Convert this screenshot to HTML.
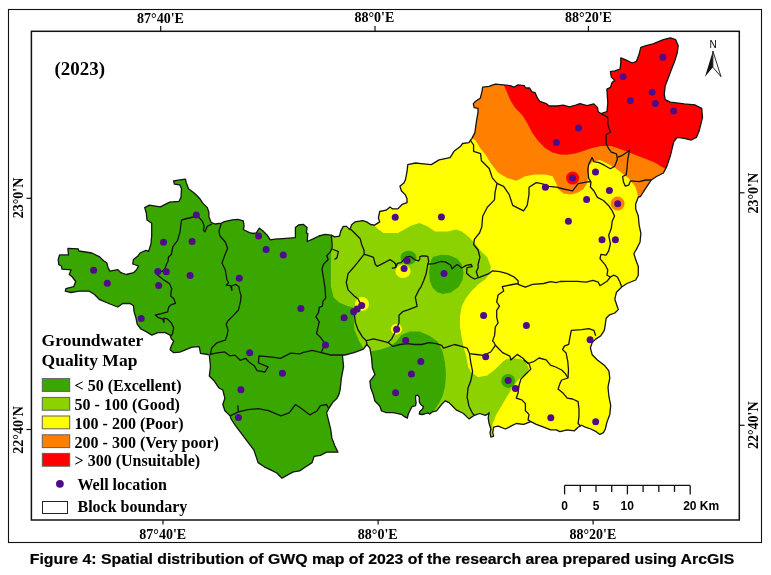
<!DOCTYPE html>
<html><head><meta charset="utf-8"><title>GWQ map 2023</title>
<style>html,body{margin:0;padding:0;background:#fff;}svg{display:block;will-change:transform;}</style>
</head><body>
<svg width="771" height="575" viewBox="0 0 771 575">
<defs><clipPath id="cp"><polygon points="58.2,259.5 59.5,254.9 68.5,254.9 67.9,248.4 78.3,248.8 78.9,251.0 91.9,253.0 99.7,256.9 103.6,260.8 106.8,262.7 108.1,267.9 110.0,271.1 117.8,269.6 120.9,272.7 126.3,274.5 133.6,272.7 136.6,269.6 138.6,266.0 132.7,264.0 133.4,259.5 138.2,255.7 140.0,253.0 146.0,250.4 148.6,251.4 151.0,243.6 151.7,235.7 151.7,223.2 147.0,220.0 146.3,213.0 144.7,207.6 149.4,205.2 160.3,206.8 169.7,202.1 179.1,201.3 181.0,197.4 181.5,188.8 179.9,184.9 174.4,184.1 173.6,181.0 178.3,180.2 185.4,179.1 186.2,182.5 188.5,188.8 194.8,193.5 199.5,198.2 202.6,202.9 207.3,207.6 208.9,212.3 208.9,217.0 211.2,222.4 215.1,224.0 221.4,223.2 224.5,221.6 232.3,219.8 237.8,219.3 243.3,220.9 244.1,226.3 243.3,229.5 249.5,232.6 253.0,233.5 256.3,232.9 259.4,228.2 262.5,230.5 267.2,235.2 270.3,239.9 275.0,239.1 286.0,238.3 295.4,237.6 295.4,227.4 298.5,225.0 303.2,224.3 307.1,227.4 306.3,232.9 307.9,233.6 307.1,241.5 312.6,239.1 318.9,236.0 325.1,234.4 331.4,235.2 334.5,236.8 339.5,236.1 340.8,230.9 343.3,226.4 346.6,226.4 349.8,229.6 351.8,224.5 355.0,221.9 362.8,220.6 366.7,221.9 370.6,224.5 374.5,225.1 379.7,221.9 378.4,218.0 379.7,211.5 386.1,210.2 390.0,206.9 392.6,208.9 397.8,208.9 402.3,204.3 407.0,202.7 407.0,198.8 405.4,194.9 401.5,191.0 399.9,186.3 403.8,183.1 405.5,179.5 407.0,171.6 407.8,164.6 415.6,163.0 423.5,163.8 431.3,164.6 439.1,159.9 450.1,157.6 454.0,151.3 460.3,146.6 462.6,143.5 468.9,142.7 470.4,140.3 471.7,138.9 474.9,132.6 476.4,121.6 478.0,112.3 478.0,108.3 474.1,107.6 473.3,103.6 475.6,101.3 480.3,98.2 481.9,91.9 482.7,87.2 489.0,86.4 495.2,84.1 503.8,84.9 510.1,85.6 514.0,87.2 517.9,84.9 524.2,85.6 525.7,88.0 529.6,88.0 532.0,91.9 535.1,92.7 537.5,98.2 539.8,101.3 546.1,103.6 549.2,106.0 557.0,106.0 563.3,105.2 569.5,106.8 575.8,105.2 580.0,103.6 587.0,105.7 593.9,103.9 597.4,107.4 598.2,111.7 600.9,113.5 606.9,111.7 607.8,103.0 606.9,89.1 610.4,87.4 612.2,82.2 614.8,80.4 611.3,77.0 610.4,71.7 614.8,70.9 620.0,69.1 620.8,63.0 620.8,57.8 625.2,59.6 632.1,63.0 636.5,61.3 639.1,54.3 640.8,47.4 646.0,45.7 653.0,43.9 663.4,39.6 670.4,37.8 675.6,39.6 678.2,45.7 677.3,52.6 674.7,61.3 671.2,70.0 668.6,77.0 665.2,85.7 664.3,94.3 665.2,99.6 670.4,102.2 684.3,103.9 694.7,104.8 701.7,108.3 702.5,117.4 700.8,124.3 699.0,131.3 696.4,137.4 691.2,140.0 684.3,138.3 677.3,137.4 673.8,141.7 672.1,148.7 670.4,155.7 666.9,166.1 663.4,173.0 656.5,176.5 651.3,180.0 647.8,185.2 644.3,190.4 640.5,196.5 638.3,197.0 635.7,203.9 635.7,209.1 638.3,216.1 639.1,224.8 640.9,233.5 640.0,242.2 636.5,249.1 633.9,253.5 635.7,259.6 638.3,266.5 638.3,275.2 635.7,280.0 627.0,283.5 621.7,287.0 616.5,292.2 614.8,299.1 616.5,304.3 618.3,309.6 614.8,313.0 609.6,314.8 606.1,318.3 605.2,325.2 604.3,330.4 600.9,335.7 595.7,339.1 592.2,342.6 590.4,347.8 592.2,354.8 597.4,360.0 604.3,365.2 608.9,370.9 609.8,378.1 608.0,387.2 608.9,396.3 610.7,405.4 609.8,414.4 607.1,421.7 605.3,429.0 603.5,432.6 599.8,434.4 596.2,431.7 590.8,429.0 585.3,427.2 581.7,425.3 578.1,427.2 574.4,430.8 567.2,429.9 559.9,431.7 556.3,429.9 550.8,429.9 543.6,427.2 536.3,424.4 530.8,421.7 523.6,424.4 516.3,423.5 510.9,426.2 505.4,429.0 498.2,426.2 493.6,427.2 492.7,432.6 493.6,436.2 490.9,437.1 490.0,432.6 490.9,429.0 489.1,423.5 488.2,418.1 489.1,412.6 487.3,414.4 485.3,415.3 479.8,413.5 474.4,415.3 469.0,418.9 467.1,417.1 463.5,413.5 456.2,409.9 452.6,406.2 449.0,402.6 445.3,400.8 441.7,404.4 436.5,410.8 432.3,411.9 429.7,414.0 427.6,412.9 424.5,414.0 421.9,414.5 419.3,414.0 419.8,411.4 422.4,409.3 423.4,406.7 420.8,404.6 419.3,402.0 419.3,397.3 417.7,395.2 415.6,395.7 415.6,399.4 416.1,402.5 415.6,405.6 412.0,406.7 410.4,409.8 408.3,414.0 407.3,418.1 404.6,416.7 401.3,414.3 393.1,412.6 386.4,412.6 381.5,411.0 379.8,406.0 374.9,401.0 373.2,394.4 370.7,387.8 369.9,381.2 374.9,374.6 372.4,368.0 371.6,358.1 369.9,348.1 366.9,344.5 363.4,349.2 354.1,352.7 344.8,355.0 342.4,355.0 343.6,366.7 341.3,378.4 340.1,390.0 339.0,394.1 337.0,398.3 332.8,402.4 328.7,408.7 326.6,412.8 328.7,421.1 330.7,429.4 331.8,437.7 334.9,446.0 338.0,452.2 332.8,452.2 326.6,452.2 320.4,455.4 314.1,456.4 312.1,462.6 305.8,466.8 299.6,470.9 293.4,471.9 287.2,475.1 282.0,478.2 276.8,473.0 270.6,469.9 264.3,466.8 258.1,462.6 256.0,456.4 254.0,450.2 247.7,441.9 241.5,433.6 235.3,425.3 231.1,419.0 230.1,415.9 224.9,410.7 222.8,404.5 224.9,398.3 222.8,390.0 218.7,387.7 214.0,380.7 209.3,376.0 210.5,366.7 209.3,355.0 207.8,354.5 200.5,353.3 199.3,346.6 192.0,347.2 185.9,349.7 179.8,352.1 173.7,352.7 170.1,349.7 171.3,346.0 173.7,341.1 171.3,338.7 170.1,335.1 165.2,332.6 157.9,332.6 151.8,335.1 145.7,331.4 140.8,329.0 137.2,324.1 136.0,318.0 134.1,311.9 133.5,305.8 129.9,303.4 122.7,303.5 117.8,307.0 110.0,304.0 99.7,299.7 94.5,294.5 89.3,291.2 78.9,291.2 71.1,292.5 65.3,291.2 65.9,288.6 73.7,286.7 75.7,281.5 72.4,277.0 69.2,274.4 71.1,269.8 62.0,269.2 61.4,266.0 58.8,264.6"/></clipPath></defs>
<g clip-path="url(#cp)">
<rect x="0" y="0" width="771" height="575" fill="#3aa600"/>
<polygon points="331.0,150.0 331.4,235.0 330.9,257.3 330.9,286.3 333.6,297.2 339.0,302.6 348.1,306.3 355.4,308.1 353.6,319.0 354.5,330.0 359.0,340.7 364.5,350.0 368.0,360.0 366.0,460.0 720.0,460.0 720.0,150.0" fill="#8cd100"/>
<polygon points="369.9,351.4 379.8,349.8 389.8,346.5 396.4,341.5 401.3,334.9 409.6,331.6 419.5,331.6 429.4,335.7 437.7,341.5 442.6,351.4 445.1,363.0 446.0,374.6 445.1,386.2 442.6,396.1 439.3,402.7 436.0,407.6 430.0,420.0 360.0,420.0 360.0,360.0" fill="#3aa600"/>
<polygon points="300.0,150.0 374.5,225.8 378.4,229.6 383.6,232.9 397.8,232.9 404.3,229.6 410.8,225.8 419.5,223.0 427.3,226.2 435.1,231.6 447.6,231.6 456.0,229.5 462.0,231.5 469.0,237.3 474.5,242.7 479.9,250.0 487.2,257.2 490.8,266.3 489.9,273.6 485.4,279.0 478.1,284.4 470.8,291.7 465.4,299.0 461.8,306.2 460.0,316.3 460.0,327.2 461.8,338.1 463.6,347.2 466.3,356.2 468.1,367.1 470.8,371.7 478.0,377.2 487.1,375.4 494.4,369.9 500.0,364.5 503.5,361.0 507.0,359.0 513.0,358.3 520.8,359.0 526.0,362.0 529.0,369.1 525.4,374.5 518.1,380.0 512.7,387.2 507.2,396.3 501.8,405.4 496.3,414.4 492.7,423.5 491.8,430.8 491.0,460.0 720.0,460.0 720.0,60.0 300.0,60.0" fill="#ffff00"/>
<polygon points="440.0,60.0 465.0,133.0 471.0,137.3 475.6,140.4 480.3,148.2 485.4,154.5 490.9,163.6 498.2,172.7 507.2,178.1 516.3,180.8 525.4,176.3 534.5,174.5 545.4,174.5 552.6,176.3 556.3,183.6 558.1,189.0 563.5,193.5 570.8,194.4 578.1,192.6 583.5,189.0 587.1,183.6 589.0,172.7 589.0,165.4 592.6,161.8 599.8,160.0 607.1,163.6 614.4,167.2 621.7,173.0 628.7,178.3 635.6,187.0 637.4,193.9 639.1,200.0 650.0,205.0 720.0,150.0 720.0,30.0" fill="#ff8000"/>
<polygon points="495.0,30.0 503.8,84.9 506.9,91.9 510.1,99.7 514.8,107.6 522.6,115.4 527.3,123.2 532.0,132.6 538.2,141.0 545.0,148.0 552.6,152.5 560.0,154.5 567.2,154.8 575.0,153.5 581.7,151.5 590.4,148.5 600.9,146.1 611.3,146.1 620.0,149.0 628.7,152.2 637.4,155.7 646.0,159.1 654.7,162.6 663.4,167.8 668.0,170.0 720.0,175.0 720.0,30.0" fill="#ff0000"/>
<polygon points="433.0,257.0 441.0,254.8 449.0,255.2 457.0,258.5 461.5,264.0 463.5,272.4 462.5,280.0 458.5,287.0 451.0,292.5 443.0,294.0 437.0,292.0 432.5,287.5 429.8,281.0 429.1,272.4 430.0,264.5 431.3,259.8" fill="#3aa600"/>
<ellipse cx="408.5" cy="257.8" rx="8" ry="7" fill="#3aa600"/>
<ellipse cx="403" cy="271.3" rx="7.6" ry="6.8" fill="#ffff00"/>
<ellipse cx="362" cy="304" rx="7" ry="7" fill="#ffff00"/>
<ellipse cx="396.4" cy="329.2" rx="5.5" ry="5.5" fill="#ffff00"/>
<ellipse cx="508.1" cy="380.9" rx="7" ry="7" fill="#3aa600"/>
<ellipse cx="572.6" cy="178.1" rx="6.5" ry="6.5" fill="#ff0000"/>
<ellipse cx="617.6" cy="203.6" rx="7" ry="7" fill="#ff8000"/>
</g>
<polyline points="181.5,220.0 187.0,218.5 193.2,217.0 197.0,215.0 202.6,221.6 204.2,226.3 203.4,230.2 205.0,231.8 207.3,226.3 212.0,224.0" fill="none" stroke="#141414" stroke-width="1.3" stroke-linejoin="round"/>
<polyline points="181.5,220.0 180.0,232.0 177.6,240.4 172.9,246.7 171.3,254.5 168.5,257.0 168.0,261.2 166.5,264.3 165.3,267.8 163.3,270.6 161.8,271.3 157.1,274.5 162.6,279.1 169.6,283.8 171.9,289.2 171.3,290.0 170.7,296.1 173.7,298.5 175.5,303.4 171.3,304.6 168.8,307.0 167.6,311.9 161.5,313.7 155.4,315.0 157.9,317.4 162.8,319.2 164.0,322.3 164.0,318.0 167.6,319.2 171.3,322.9 173.7,327.7 172.5,333.8 170.8,336.0" fill="none" stroke="#141414" stroke-width="1.3" stroke-linejoin="round"/>
<polyline points="221.4,223.2 219.0,231.0 219.8,235.7 225.3,242.0 227.6,248.2 224.5,256.0 222.0,263.0 225.3,270.0 227.0,280.0 228.6,282.6 226.2,285.2 230.6,285.7 232.0,290.5 231.5,286.0 235.9,284.4 239.0,286.8 239.5,290.4 241.1,295.6 240.6,300.9 238.5,310.0 233.5,315.4 228.0,320.8 226.2,324.4 228.0,329.9 227.2,335.0 225.3,340.2 216.9,342.8 211.7,348.0 210.4,354.5" fill="none" stroke="#141414" stroke-width="1.3" stroke-linejoin="round"/>
<polyline points="209.7,354.5 215.6,353.2 224.6,351.9 229.8,355.8 235.0,355.1 240.2,360.3 245.4,358.3 249.3,362.2 254.5,366.1 257.1,370.7 264.9,372.0 268.1,366.8 258.4,362.9 259.0,355.8 272.6,357.1 280.4,358.3 290.8,353.2 300.0,353.8 302.7,352.7 312.1,350.4 321.4,352.7 330.7,355.0 342.4,355.0" fill="none" stroke="#141414" stroke-width="1.3" stroke-linejoin="round"/>
<polyline points="331.4,235.2 332.2,247.0 330.6,251.6 326.7,255.6 328.2,259.5 323.5,264.2 322.0,268.9 323.5,278.2 325.0,287.8 325.7,298.3 323.1,300.9 322.4,306.1 319.2,307.4 318.5,312.6 315.9,316.6 319.2,321.8 317.8,328.3 316.5,333.5 320.5,337.4 322.4,340.0 325.0,344.0 321.8,351.1 321.4,352.7" fill="none" stroke="#141414" stroke-width="1.3" stroke-linejoin="round"/>
<polyline points="332.2,249.0 334.5,250.0 338.4,251.6 336.9,257.9 334.5,259.5" fill="none" stroke="#141414" stroke-width="1.3" stroke-linejoin="round"/>
<polyline points="350.5,229.0 356.3,234.8 360.2,238.7 361.5,243.9 364.1,250.4 364.1,254.3 358.9,260.8 353.7,267.3 348.1,273.6 346.3,282.7 348.1,289.9 353.6,295.4 358.1,299.0 360.8,304.4 357.2,309.9 354.5,315.3 355.4,322.6 358.1,329.9 362.6,337.1 366.3,340.7 366.9,344.5" fill="none" stroke="#141414" stroke-width="1.3" stroke-linejoin="round"/>
<polyline points="364.1,254.3 368.1,255.4 373.5,257.3 375.3,264.5 377.2,266.3 384.4,262.7 390.0,259.6 393.7,262.0 395.5,263.9 395.8,267.5 392.4,268.1 395.8,267.5 397.3,263.3 401.0,262.7 402.8,260.8 405.8,257.2 410.1,256.3 413.1,258.4 415.6,260.2 418.6,260.8 419.8,259.0 419.8,256.6 421.6,256.0 425.0,256.0 427.8,256.3 428.7,261.0 427.8,264.1 426.1,274.1 423.5,281.1 420.9,287.2 418.9,289.9 415.3,297.2 417.1,306.3 408.0,309.9 402.6,311.7 399.0,315.3 399.0,322.6 397.1,328.0 394.4,333.5 391.7,338.9 388.1,342.6" fill="none" stroke="#141414" stroke-width="1.3" stroke-linejoin="round"/>
<polyline points="366.3,340.7 373.5,338.9 380.8,340.7 388.1,342.6 392.7,346.3 400.0,344.5 407.2,343.6 414.5,344.5 421.7,344.5 429.0,342.7 436.3,343.6 441.7,345.4 443.5,348.1 449.0,346.3 454.4,344.5 461.7,346.3 467.1,348.1 469.5,353.6 476.2,354.5 483.5,355.4 490.7,352.0 495.4,345.3" fill="none" stroke="#141414" stroke-width="1.3" stroke-linejoin="round"/>
<polyline points="469.5,353.6 470.8,362.7 472.6,371.7 470.8,380.8 468.0,388.1 467.1,397.2 469.0,406.2 472.6,413.5 474.4,415.3" fill="none" stroke="#141414" stroke-width="1.3" stroke-linejoin="round"/>
<polyline points="427.8,264.1 433.9,263.7 440.9,261.5 445.2,261.9 450.5,265.0 452.2,268.9 454.8,266.3 457.4,264.5 461.8,268.0 466.1,265.4 471.3,264.5 472.2,266.7 467.0,267.6 466.6,273.2 470.5,276.7 474.5,279.0 479.9,277.2 489.0,273.6 492.6,270.8 499.9,271.7 507.2,273.6 514.4,277.2 518.1,280.8 518.1,284.4 525.3,287.2 532.6,284.4 543.5,283.5 550.7,281.7 556.2,282.6 560.0,281.5 567.0,281.3 577.4,281.3 586.1,282.2 593.0,280.4 598.3,282.2 600.0,285.7 607.0,281.3 610.4,277.0" fill="none" stroke="#141414" stroke-width="1.3" stroke-linejoin="round"/>
<polyline points="470.4,140.3 473.6,145.0 473.6,151.3 480.6,153.6 481.4,160.7 484.5,163.8 489.2,168.5 492.3,177.9 497.0,183.4 495.0,192.6 494.5,199.9 487.3,207.2 482.7,216.2 481.8,227.1 479.5,233.0 474.5,239.1 473.6,244.5 478.1,250.0 479.9,257.2 478.1,264.5 478.1,268.1 476.3,271.7 478.1,277.2" fill="none" stroke="#141414" stroke-width="1.3" stroke-linejoin="round"/>
<polyline points="497.0,183.4 503.6,186.3 509.1,194.4 512.7,205.3 518.1,208.1 523.6,210.8 527.2,205.3 529.0,194.4 529.0,187.2 536.3,182.6 541.7,183.6 549.0,186.3 556.3,187.2 563.5,189.0 572.6,190.8 578.1,183.6 583.5,182.6 589.0,181.7 591.0,182.0" fill="none" stroke="#141414" stroke-width="1.3" stroke-linejoin="round"/>
<polyline points="592.2,157.4 588.7,164.3 587.8,169.6 588.7,178.3 591.0,182.0 590.4,187.0 594.0,191.0 597.4,197.4 603.5,200.5 608.7,205.7 612.2,210.9 614.6,216.1 612.2,221.3 611.3,228.3 608.7,235.2 610.4,243.9 608.7,250.9 606.1,255.2 600.9,254.3 600.0,258.7 605.2,264.8 607.8,270.0 607.0,275.2 610.4,277.0 613.9,275.2 617.4,277.0 620.0,282.2 621.7,287.0" fill="none" stroke="#141414" stroke-width="1.3" stroke-linejoin="round"/>
<polyline points="592.2,157.4 593.9,161.7 599.1,162.6 604.3,165.2 610.4,168.7 614.8,166.1" fill="none" stroke="#141414" stroke-width="1.3" stroke-linejoin="round"/>
<polyline points="600.9,113.5 607.8,117.4 607.8,124.3 610.4,132.2 606.1,134.8 606.1,143.5 608.7,148.7 611.3,152.2 616.5,153.9 617.4,159.1 614.8,166.1" fill="none" stroke="#141414" stroke-width="1.3" stroke-linejoin="round"/>
<polyline points="617.4,157.4 621.7,155.7 626.9,152.2 629.5,150.4 627.8,159.1 626.9,169.6 626.1,174.8 622.6,176.5 623.4,181.7 625.2,186.1 628.7,185.2 630.4,180.9 639.1,181.7 646.0,180.0 651.3,180.0" fill="none" stroke="#141414" stroke-width="1.3" stroke-linejoin="round"/>
<polyline points="595.7,335.7 593.9,330.4 588.7,328.7 581.7,329.6 571.3,330.4 569.6,339.1 568.7,344.3 564.3,346.1 562.6,349.6 566.1,353.0 567.8,361.7 568.5,370.0 568.0,378.0 561.7,380.0 559.9,383.6 558.1,389.0 563.5,393.6 567.2,398.1 572.6,399.0 578.1,401.7 579.0,409.0 579.0,416.3 578.1,423.5 580.8,426.2" fill="none" stroke="#141414" stroke-width="1.3" stroke-linejoin="round"/>
<polyline points="493.6,341.7 495.4,345.3 499.0,349.0 502.6,352.6 509.9,356.2 510.8,359.9 517.2,354.4 522.6,358.0 528.1,363.5 533.5,361.7 539.0,358.0 546.2,359.9 550.4,365.2 555.7,367.0 561.7,370.0 565.3,373.6 568.0,378.0" fill="none" stroke="#141414" stroke-width="1.3" stroke-linejoin="round"/>
<polyline points="518.1,283.5 510.0,285.0 502.3,286.7 503.7,290.9 498.1,295.0 496.7,302.0 499.5,306.2 496.7,310.3 496.7,317.3 498.1,322.9 495.3,327.0 494.6,335.4 492.6,340.9 493.6,341.7" fill="none" stroke="#141414" stroke-width="1.3" stroke-linejoin="round"/>
<polyline points="523.6,360.0 529.0,363.6" fill="none" stroke="#141414" stroke-width="1.3" stroke-linejoin="round"/>
<polyline points="529.0,363.6 530.8,369.1 525.4,374.5 520.9,379.1 519.0,385.4 518.1,392.7 516.3,398.1 521.8,399.9 525.4,403.6 525.4,410.8 529.0,414.4 528.1,419.9 530.8,421.7" fill="none" stroke="#141414" stroke-width="1.3" stroke-linejoin="round"/>
<polyline points="230.1,415.9 238.4,411.8 247.7,409.7 258.1,408.7 268.5,410.7 280.9,415.9 289.2,412.8 295.5,404.5 301.7,408.7 310.0,414.9 317.2,410.7 320.4,405.6 326.6,404.5 328.4,408.0" fill="none" stroke="#141414" stroke-width="1.3" stroke-linejoin="round"/>
<polyline points="238.4,411.8 237.8,405.4" fill="none" stroke="#141414" stroke-width="1.3" stroke-linejoin="round"/>
<polygon points="58.2,259.5 59.5,254.9 68.5,254.9 67.9,248.4 78.3,248.8 78.9,251.0 91.9,253.0 99.7,256.9 103.6,260.8 106.8,262.7 108.1,267.9 110.0,271.1 117.8,269.6 120.9,272.7 126.3,274.5 133.6,272.7 136.6,269.6 138.6,266.0 132.7,264.0 133.4,259.5 138.2,255.7 140.0,253.0 146.0,250.4 148.6,251.4 151.0,243.6 151.7,235.7 151.7,223.2 147.0,220.0 146.3,213.0 144.7,207.6 149.4,205.2 160.3,206.8 169.7,202.1 179.1,201.3 181.0,197.4 181.5,188.8 179.9,184.9 174.4,184.1 173.6,181.0 178.3,180.2 185.4,179.1 186.2,182.5 188.5,188.8 194.8,193.5 199.5,198.2 202.6,202.9 207.3,207.6 208.9,212.3 208.9,217.0 211.2,222.4 215.1,224.0 221.4,223.2 224.5,221.6 232.3,219.8 237.8,219.3 243.3,220.9 244.1,226.3 243.3,229.5 249.5,232.6 253.0,233.5 256.3,232.9 259.4,228.2 262.5,230.5 267.2,235.2 270.3,239.9 275.0,239.1 286.0,238.3 295.4,237.6 295.4,227.4 298.5,225.0 303.2,224.3 307.1,227.4 306.3,232.9 307.9,233.6 307.1,241.5 312.6,239.1 318.9,236.0 325.1,234.4 331.4,235.2 334.5,236.8 339.5,236.1 340.8,230.9 343.3,226.4 346.6,226.4 349.8,229.6 351.8,224.5 355.0,221.9 362.8,220.6 366.7,221.9 370.6,224.5 374.5,225.1 379.7,221.9 378.4,218.0 379.7,211.5 386.1,210.2 390.0,206.9 392.6,208.9 397.8,208.9 402.3,204.3 407.0,202.7 407.0,198.8 405.4,194.9 401.5,191.0 399.9,186.3 403.8,183.1 405.5,179.5 407.0,171.6 407.8,164.6 415.6,163.0 423.5,163.8 431.3,164.6 439.1,159.9 450.1,157.6 454.0,151.3 460.3,146.6 462.6,143.5 468.9,142.7 470.4,140.3 471.7,138.9 474.9,132.6 476.4,121.6 478.0,112.3 478.0,108.3 474.1,107.6 473.3,103.6 475.6,101.3 480.3,98.2 481.9,91.9 482.7,87.2 489.0,86.4 495.2,84.1 503.8,84.9 510.1,85.6 514.0,87.2 517.9,84.9 524.2,85.6 525.7,88.0 529.6,88.0 532.0,91.9 535.1,92.7 537.5,98.2 539.8,101.3 546.1,103.6 549.2,106.0 557.0,106.0 563.3,105.2 569.5,106.8 575.8,105.2 580.0,103.6 587.0,105.7 593.9,103.9 597.4,107.4 598.2,111.7 600.9,113.5 606.9,111.7 607.8,103.0 606.9,89.1 610.4,87.4 612.2,82.2 614.8,80.4 611.3,77.0 610.4,71.7 614.8,70.9 620.0,69.1 620.8,63.0 620.8,57.8 625.2,59.6 632.1,63.0 636.5,61.3 639.1,54.3 640.8,47.4 646.0,45.7 653.0,43.9 663.4,39.6 670.4,37.8 675.6,39.6 678.2,45.7 677.3,52.6 674.7,61.3 671.2,70.0 668.6,77.0 665.2,85.7 664.3,94.3 665.2,99.6 670.4,102.2 684.3,103.9 694.7,104.8 701.7,108.3 702.5,117.4 700.8,124.3 699.0,131.3 696.4,137.4 691.2,140.0 684.3,138.3 677.3,137.4 673.8,141.7 672.1,148.7 670.4,155.7 666.9,166.1 663.4,173.0 656.5,176.5 651.3,180.0 647.8,185.2 644.3,190.4 640.5,196.5 638.3,197.0 635.7,203.9 635.7,209.1 638.3,216.1 639.1,224.8 640.9,233.5 640.0,242.2 636.5,249.1 633.9,253.5 635.7,259.6 638.3,266.5 638.3,275.2 635.7,280.0 627.0,283.5 621.7,287.0 616.5,292.2 614.8,299.1 616.5,304.3 618.3,309.6 614.8,313.0 609.6,314.8 606.1,318.3 605.2,325.2 604.3,330.4 600.9,335.7 595.7,339.1 592.2,342.6 590.4,347.8 592.2,354.8 597.4,360.0 604.3,365.2 608.9,370.9 609.8,378.1 608.0,387.2 608.9,396.3 610.7,405.4 609.8,414.4 607.1,421.7 605.3,429.0 603.5,432.6 599.8,434.4 596.2,431.7 590.8,429.0 585.3,427.2 581.7,425.3 578.1,427.2 574.4,430.8 567.2,429.9 559.9,431.7 556.3,429.9 550.8,429.9 543.6,427.2 536.3,424.4 530.8,421.7 523.6,424.4 516.3,423.5 510.9,426.2 505.4,429.0 498.2,426.2 493.6,427.2 492.7,432.6 493.6,436.2 490.9,437.1 490.0,432.6 490.9,429.0 489.1,423.5 488.2,418.1 489.1,412.6 487.3,414.4 485.3,415.3 479.8,413.5 474.4,415.3 469.0,418.9 467.1,417.1 463.5,413.5 456.2,409.9 452.6,406.2 449.0,402.6 445.3,400.8 441.7,404.4 436.5,410.8 432.3,411.9 429.7,414.0 427.6,412.9 424.5,414.0 421.9,414.5 419.3,414.0 419.8,411.4 422.4,409.3 423.4,406.7 420.8,404.6 419.3,402.0 419.3,397.3 417.7,395.2 415.6,395.7 415.6,399.4 416.1,402.5 415.6,405.6 412.0,406.7 410.4,409.8 408.3,414.0 407.3,418.1 404.6,416.7 401.3,414.3 393.1,412.6 386.4,412.6 381.5,411.0 379.8,406.0 374.9,401.0 373.2,394.4 370.7,387.8 369.9,381.2 374.9,374.6 372.4,368.0 371.6,358.1 369.9,348.1 366.9,344.5 363.4,349.2 354.1,352.7 344.8,355.0 342.4,355.0 343.6,366.7 341.3,378.4 340.1,390.0 339.0,394.1 337.0,398.3 332.8,402.4 328.7,408.7 326.6,412.8 328.7,421.1 330.7,429.4 331.8,437.7 334.9,446.0 338.0,452.2 332.8,452.2 326.6,452.2 320.4,455.4 314.1,456.4 312.1,462.6 305.8,466.8 299.6,470.9 293.4,471.9 287.2,475.1 282.0,478.2 276.8,473.0 270.6,469.9 264.3,466.8 258.1,462.6 256.0,456.4 254.0,450.2 247.7,441.9 241.5,433.6 235.3,425.3 231.1,419.0 230.1,415.9 224.9,410.7 222.8,404.5 224.9,398.3 222.8,390.0 218.7,387.7 214.0,380.7 209.3,376.0 210.5,366.7 209.3,355.0 207.8,354.5 200.5,353.3 199.3,346.6 192.0,347.2 185.9,349.7 179.8,352.1 173.7,352.7 170.1,349.7 171.3,346.0 173.7,341.1 171.3,338.7 170.1,335.1 165.2,332.6 157.9,332.6 151.8,335.1 145.7,331.4 140.8,329.0 137.2,324.1 136.0,318.0 134.1,311.9 133.5,305.8 129.9,303.4 122.7,303.5 117.8,307.0 110.0,304.0 99.7,299.7 94.5,294.5 89.3,291.2 78.9,291.2 71.1,292.5 65.3,291.2 65.9,288.6 73.7,286.7 75.7,281.5 72.4,277.0 69.2,274.4 71.1,269.8 62.0,269.2 61.4,266.0 58.8,264.6" fill="none" stroke="#141414" stroke-width="1.3" stroke-linejoin="round"/>
<circle cx="93.6" cy="270.2" r="3.5" fill="#500c88"/>
<circle cx="107.3" cy="283.2" r="3.5" fill="#500c88"/>
<circle cx="141.2" cy="318.6" r="3.5" fill="#500c88"/>
<circle cx="157.8" cy="271.5" r="3.5" fill="#500c88"/>
<circle cx="166.3" cy="271.8" r="3.5" fill="#500c88"/>
<circle cx="158.7" cy="285.4" r="3.5" fill="#500c88"/>
<circle cx="190.1" cy="275.4" r="3.5" fill="#500c88"/>
<circle cx="163.5" cy="242.3" r="3.5" fill="#500c88"/>
<circle cx="192.1" cy="241.5" r="3.5" fill="#500c88"/>
<circle cx="196.3" cy="215.1" r="3.5" fill="#500c88"/>
<circle cx="239.3" cy="278.2" r="3.5" fill="#500c88"/>
<circle cx="258.6" cy="236" r="3.5" fill="#500c88"/>
<circle cx="266.1" cy="249.5" r="3.5" fill="#500c88"/>
<circle cx="283.3" cy="255.1" r="3.5" fill="#500c88"/>
<circle cx="300.9" cy="308.4" r="3.5" fill="#500c88"/>
<circle cx="344.1" cy="317.7" r="3.5" fill="#500c88"/>
<circle cx="325.5" cy="345" r="3.5" fill="#500c88"/>
<circle cx="249.7" cy="352.7" r="3.5" fill="#500c88"/>
<circle cx="282.4" cy="373.2" r="3.5" fill="#500c88"/>
<circle cx="240.9" cy="389.8" r="3.5" fill="#500c88"/>
<circle cx="238.4" cy="417.6" r="3.5" fill="#500c88"/>
<circle cx="361.7" cy="305.4" r="3.5" fill="#500c88"/>
<circle cx="357.2" cy="309" r="3.5" fill="#500c88"/>
<circle cx="353.6" cy="311.7" r="3.5" fill="#500c88"/>
<circle cx="395.2" cy="217.2" r="3.5" fill="#500c88"/>
<circle cx="441.4" cy="217.1" r="3.5" fill="#500c88"/>
<circle cx="407.1" cy="260.5" r="3.5" fill="#500c88"/>
<circle cx="404.1" cy="268.6" r="3.5" fill="#500c88"/>
<circle cx="444" cy="273.6" r="3.5" fill="#500c88"/>
<circle cx="396.6" cy="329.3" r="3.5" fill="#500c88"/>
<circle cx="405.7" cy="340.4" r="3.5" fill="#500c88"/>
<circle cx="420.8" cy="361.4" r="3.5" fill="#500c88"/>
<circle cx="411.4" cy="373.9" r="3.5" fill="#500c88"/>
<circle cx="395.6" cy="392.8" r="3.5" fill="#500c88"/>
<circle cx="485.7" cy="356.7" r="3.5" fill="#500c88"/>
<circle cx="483.6" cy="315.6" r="3.5" fill="#500c88"/>
<circle cx="526.4" cy="325.4" r="3.5" fill="#500c88"/>
<circle cx="508.2" cy="380.5" r="3.5" fill="#500c88"/>
<circle cx="515.4" cy="388.5" r="3.5" fill="#500c88"/>
<circle cx="550.8" cy="417.7" r="3.5" fill="#500c88"/>
<circle cx="595.7" cy="421.7" r="3.5" fill="#500c88"/>
<circle cx="590.1" cy="339.7" r="3.5" fill="#500c88"/>
<circle cx="545.4" cy="187.2" r="3.5" fill="#500c88"/>
<circle cx="568.4" cy="221.3" r="3.5" fill="#500c88"/>
<circle cx="572.6" cy="178.1" r="3.5" fill="#500c88"/>
<circle cx="556.4" cy="142.5" r="3.5" fill="#500c88"/>
<circle cx="578.5" cy="127.9" r="3.5" fill="#500c88"/>
<circle cx="586.6" cy="199.6" r="3.5" fill="#500c88"/>
<circle cx="595.5" cy="172.1" r="3.5" fill="#500c88"/>
<circle cx="609.4" cy="190.4" r="3.5" fill="#500c88"/>
<circle cx="617.7" cy="203.7" r="3.5" fill="#500c88"/>
<circle cx="602" cy="239.8" r="3.5" fill="#500c88"/>
<circle cx="615.4" cy="239.8" r="3.5" fill="#500c88"/>
<circle cx="623.1" cy="76.4" r="3.5" fill="#500c88"/>
<circle cx="630.4" cy="100.4" r="3.5" fill="#500c88"/>
<circle cx="652.1" cy="92.3" r="3.5" fill="#500c88"/>
<circle cx="655.3" cy="103.6" r="3.5" fill="#500c88"/>
<circle cx="662.9" cy="57.3" r="3.5" fill="#500c88"/>
<circle cx="673.6" cy="110.9" r="3.5" fill="#500c88"/>
<rect x="8.5" y="9.5" width="753" height="533" fill="none" stroke="#111" stroke-width="1.1"/>
<rect x="31.4" y="31.3" width="707.9" height="488.7" fill="none" stroke="#111" stroke-width="1.5"/>
<line x1="160.7" y1="26.1" x2="160.7" y2="31" stroke="#111" stroke-width="1.2"/>
<line x1="375" y1="26.1" x2="375" y2="31" stroke="#111" stroke-width="1.2"/>
<line x1="588.4" y1="26.1" x2="588.4" y2="31" stroke="#111" stroke-width="1.2"/>
<line x1="163" y1="520" x2="163" y2="524.5" stroke="#111" stroke-width="1.2"/>
<line x1="378.1" y1="520" x2="378.1" y2="524.5" stroke="#111" stroke-width="1.2"/>
<line x1="593.1" y1="520" x2="593.1" y2="524.5" stroke="#111" stroke-width="1.2"/>
<line x1="26.5" y1="198.3" x2="31.3" y2="198.3" stroke="#111" stroke-width="1.2"/>
<line x1="26.5" y1="429.5" x2="31.3" y2="429.5" stroke="#111" stroke-width="1.2"/>
<line x1="739.8" y1="192.8" x2="744.5" y2="192.8" stroke="#111" stroke-width="1.2"/>
<line x1="739.8" y1="425.3" x2="744.5" y2="425.3" stroke="#111" stroke-width="1.2"/>
<text x="137.1" y="22.6" font-family="'Liberation Serif', serif" font-weight="bold" font-size="14" text-anchor="start" >87°40'E</text>
<text x="354.5" y="22.4" font-family="'Liberation Serif', serif" font-weight="bold" font-size="14" text-anchor="start" >88°0'E</text>
<text x="565.1" y="22.4" font-family="'Liberation Serif', serif" font-weight="bold" font-size="14" text-anchor="start" >88°20'E</text>
<text x="139.3" y="538.5" font-family="'Liberation Serif', serif" font-weight="bold" font-size="14" text-anchor="start" >87°40'E</text>
<text x="357.8" y="538.5" font-family="'Liberation Serif', serif" font-weight="bold" font-size="14" text-anchor="start" >88°0'E</text>
<text x="569.5" y="538.5" font-family="'Liberation Serif', serif" font-weight="bold" font-size="14" text-anchor="start" >88°20'E</text>
<text transform="translate(23,198) rotate(-90)" font-family="'Liberation Serif', serif" font-weight="bold" font-size="14" text-anchor="middle">23°0'N</text>
<text transform="translate(23,429.9) rotate(-90)" font-family="'Liberation Serif', serif" font-weight="bold" font-size="14" text-anchor="middle">22°40'N</text>
<text transform="translate(758,193.2) rotate(-90)" font-family="'Liberation Serif', serif" font-weight="bold" font-size="14" text-anchor="middle">23°0'N</text>
<text transform="translate(758,425.3) rotate(-90)" font-family="'Liberation Serif', serif" font-weight="bold" font-size="14" text-anchor="middle">22°40'N</text>
<text x="54.5" y="74.7" font-family="'Liberation Serif', serif" font-weight="bold" font-size="18.5" text-anchor="start" textLength="50.5" lengthAdjust="spacingAndGlyphs">(2023)</text>
<text x="713" y="47.7" font-family="&quot;Liberation Sans&quot;, sans-serif" font-size="10" text-anchor="middle">N</text>
<polygon points="712.9,51 705,76.7 712.9,67.3" fill="#111"/>
<polygon points="712.9,51 721,76.7 712.9,67.3" fill="#fff" stroke="#111" stroke-width="0.9"/>
<text x="41.6" y="345.8" font-family="'Liberation Serif', serif" font-weight="bold" font-size="17.5" text-anchor="start" >Groundwater</text>
<text x="41.6" y="366" font-family="'Liberation Serif', serif" font-weight="bold" font-size="17.5" text-anchor="start" >Quality Map</text>
<rect x="42.3" y="378.6" width="27.4" height="12.8" fill="#3aa600" stroke="#606060" stroke-width="1"/>
<text x="74.6" y="391.3" font-family="'Liberation Serif', serif" font-weight="bold" font-size="16" text-anchor="start" >&lt; 50 (Excellent)</text>
<rect x="42.3" y="397.4" width="27.4" height="12.8" fill="#8cd100" stroke="#606060" stroke-width="1"/>
<text x="74.6" y="410.09999999999997" font-family="'Liberation Serif', serif" font-weight="bold" font-size="16" text-anchor="start" >50 - 100 (Good)</text>
<rect x="42.3" y="416.0" width="27.4" height="12.8" fill="#ffff00" stroke="#606060" stroke-width="1"/>
<text x="74.6" y="428.7" font-family="'Liberation Serif', serif" font-weight="bold" font-size="16" text-anchor="start" >100 - 200 (Poor)</text>
<rect x="42.3" y="434.8" width="27.4" height="12.8" fill="#ff8000" stroke="#606060" stroke-width="1"/>
<text x="74.6" y="447.5" font-family="'Liberation Serif', serif" font-weight="bold" font-size="16" text-anchor="start" >200 - 300 (Very poor)</text>
<rect x="42.3" y="453.4" width="27.4" height="12.8" fill="#ff0000" stroke="#606060" stroke-width="1"/>
<text x="74.6" y="466.09999999999997" font-family="'Liberation Serif', serif" font-weight="bold" font-size="16" text-anchor="start" >&gt; 300 (Unsuitable)</text>
<circle cx="59.9" cy="483.8" r="3.9" fill="#500c88"/>
<text x="77.5" y="489.7" font-family="'Liberation Serif', serif" font-weight="bold" font-size="16" text-anchor="start" >Well location</text>
<rect x="42.5" y="501.5" width="25" height="12" fill="#fff" stroke="#222" stroke-width="1"/>
<text x="77.5" y="512.3" font-family="'Liberation Serif', serif" font-weight="bold" font-size="16" text-anchor="start" >Block boundary</text>
<line x1="564.6" y1="485.4" x2="690.2" y2="485.4" stroke="#111" stroke-width="1.3"/>
<line x1="564.6" y1="485.4" x2="564.6" y2="494.4" stroke="#111" stroke-width="1.3"/>
<line x1="580.3" y1="485.4" x2="580.3" y2="491.9" stroke="#111" stroke-width="1.3"/>
<line x1="596.0" y1="485.4" x2="596.0" y2="491.9" stroke="#111" stroke-width="1.3"/>
<line x1="611.7" y1="485.4" x2="611.7" y2="491.9" stroke="#111" stroke-width="1.3"/>
<line x1="627.4" y1="485.4" x2="627.4" y2="494.4" stroke="#111" stroke-width="1.3"/>
<line x1="643.1" y1="485.4" x2="643.1" y2="491.9" stroke="#111" stroke-width="1.3"/>
<line x1="658.8" y1="485.4" x2="658.8" y2="491.9" stroke="#111" stroke-width="1.3"/>
<line x1="674.5" y1="485.4" x2="674.5" y2="491.9" stroke="#111" stroke-width="1.3"/>
<line x1="690.2" y1="485.4" x2="690.2" y2="494.4" stroke="#111" stroke-width="1.3"/>
<text x="564.6" y="509.6" font-family="'Liberation Sans', sans-serif" font-weight="bold" font-size="12" text-anchor="middle" >0</text>
<text x="596" y="509.6" font-family="'Liberation Sans', sans-serif" font-weight="bold" font-size="12" text-anchor="middle" >5</text>
<text x="627.2" y="509.6" font-family="'Liberation Sans', sans-serif" font-weight="bold" font-size="12" text-anchor="middle" >10</text>
<text x="683.2" y="509.6" font-family="'Liberation Sans', sans-serif" font-weight="bold" font-size="12" text-anchor="start" >20 Km</text>
<text x="29.8" y="564.2" font-family="'Liberation Sans', sans-serif" font-weight="bold" font-size="14.8" stroke="#000" stroke-width="0.2" textLength="704.4" lengthAdjust="spacingAndGlyphs">Figure 4: Spatial distribution of GWQ map of 2023 of the research area prepared using ArcGIS</text>
</svg>
</body></html>
